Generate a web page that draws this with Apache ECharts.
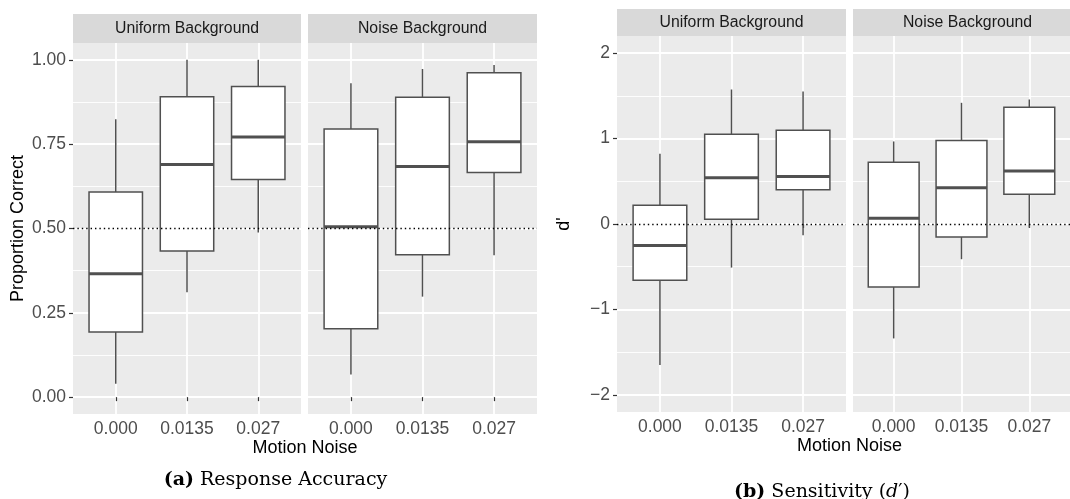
<!DOCTYPE html>
<html>
<head>
<meta charset="utf-8">
<script src="https://cdn.jsdelivr.net/npm/echarts@6/dist/echarts.min.js"></script>
<style>
html,body{margin:0;padding:0;background:#fff;}
#chart{width:1070px;height:499px;}
</style>
</head>
<body>
<div id="chart"></div>
<script>
// ---------------- DATA ----------------
const categories = ['0.000', '0.0135', '0.027'];
const facets = ['Uniform Background', 'Noise Background'];
// each row: [lower whisker, Q1, median, Q3, upper whisker]
const accUniform = [
  [0.040, 0.193, 0.366, 0.608, 0.824],
  [0.311, 0.433, 0.690, 0.891, 1.000],
  [0.488, 0.645, 0.771, 0.921, 1.000]
];
const accNoise = [
  [0.067, 0.203, 0.505, 0.795, 0.931],
  [0.298, 0.422, 0.684, 0.889, 0.973],
  [0.421, 0.666, 0.757, 0.962, 0.985]
];
const dUniform = [
  [-1.651, -0.658, -0.253, 0.218, 0.822],
  [-0.510, 0.055, 0.542, 1.051, 1.574],
  [-0.132, 0.402, 0.557, 1.098, 1.550]
];
const dNoise = [
  [-1.339, -0.736, 0.067, 0.724, 0.966],
  [-0.412, -0.152, 0.425, 0.978, 1.418],
  [-0.042, 0.347, 0.619, 1.367, 1.457]
];
const accTicks = [0, 0.25, 0.5, 0.75, 1];
const accMinorTicks = [0.125, 0.375, 0.625, 0.875];
const dTicks = [-2, -1, 0, 1, 2];
const dMinorTicks = [-1.5, -0.5, 0.5, 1.5];
const accRef = 0.5;
const dRef = 0;
const xTitle = 'Motion Noise';
const accYTitle = 'Proportion Correct';
const dYTitle = "d'";

// ---------------- LAYOUT / STYLE ----------------
const FONT = 'Liberation Sans';
const panels = [
  // chart (a)
  {left: 73, width: 228, top: 43, height: 371, stripTop: 14, stripH: 29, data: accUniform, facet: 0, chart: 'a'},
  {left: 308, width: 229, top: 43, height: 371, stripTop: 14, stripH: 29, data: accNoise, facet: 1, chart: 'a'},
  // chart (b)
  {left: 617, width: 229, top: 36, height: 376, stripTop: 9, stripH: 27, data: dUniform, facet: 0, chart: 'b'},
  {left: 853, width: 229, top: 36, height: 376, stripTop: 9, stripH: 27, data: dNoise, facet: 1, chart: 'b'}
];
const BOX_COLOR = '#505050';

function renderBox(params, api) {
  const x = api.value(0);
  const lo = api.coord([x, api.value(1)]);
  const q1 = api.coord([x, api.value(2)]);
  const md = api.coord([x, api.value(3)]);
  const q3 = api.coord([x, api.value(4)]);
  const hi = api.coord([x, api.value(5)]);
  const w = api.size([1, 0])[0] * 0.75;
  const cx = md[0];
  const ls = {stroke: BOX_COLOR, lineWidth: 1.5};
  return {
    type: 'group',
    children: [
      {type: 'line', shape: {x1: cx, y1: hi[1], x2: cx, y2: q3[1]}, style: ls},
      {type: 'line', shape: {x1: cx, y1: q1[1], x2: cx, y2: lo[1]}, style: ls},
      {type: 'rect', shape: {x: cx - w / 2, y: q3[1], width: w, height: q1[1] - q3[1]},
        style: {fill: '#ffffff', stroke: BOX_COLOR, lineWidth: 1.5}},
      {type: 'line', shape: {x1: cx - w / 2, y1: md[1], x2: cx + w / 2, y2: md[1]},
        style: {stroke: BOX_COLOR, lineWidth: 3}}
    ]
  };
}

const grids = [], xAxes = [], yAxes = [], series = [], graphics = [];
panels.forEach((p, i) => {
  const isA = p.chart === 'a';
  grids.push({left: p.left, top: p.top, width: p.width, height: p.height,
    show: true, backgroundColor: '#ebebeb', borderWidth: 0, containLabel: false});
  xAxes.push({
    type: 'value', gridIndex: i, min: -0.6, max: 2.6,
    axisLine: {show: false},
    axisTick: {show: true, length: 4, lineStyle: {color: '#333333', width: 1.2}, customValues: [0, 1, 2]},
    axisLabel: {show: true, customValues: [0, 1, 2], margin: 6, color: '#4d4d4d',
      fontFamily: FONT, fontSize: 17.5, formatter: v => categories[Math.round(v)]},
    splitLine: {show: true, lineStyle: {color: '#ffffff', width: 1.8}}
  });
  const ticks = isA ? accTicks : dTicks;
  const minor = isA ? accMinorTicks : dMinorTicks;
  const yMin = isA ? -0.05 : -2.2, yMax = isA ? 1.05 : 2.2;
  const showLabels = p.facet === 0;
  // minor grid axis (drawn first)
  yAxes.push({
    type: 'value', gridIndex: i, min: yMin, max: yMax, position: 'left',
    axisLine: {show: false}, axisTick: {show: false, customValues: minor},
    axisLabel: {show: false, customValues: minor},
    splitLine: {show: true, lineStyle: {color: '#ffffff', width: 0.9}}
  });
  // major axis
  yAxes.push({
    type: 'value', gridIndex: i, min: yMin, max: yMax, position: 'left',
    name: showLabels ? (isA ? accYTitle : dYTitle) : '',
    nameLocation: 'middle', nameRotate: 90, nameGap: isA ? 46 : 44,
    nameTextStyle: {fontFamily: FONT, fontSize: 18, color: '#000000'},
    axisLine: {show: false},
    axisTick: {show: showLabels, length: 4, lineStyle: {color: '#333333', width: 1.2}, customValues: ticks},
    axisLabel: {show: showLabels, customValues: ticks, margin: 7, color: '#4d4d4d',
      fontFamily: FONT, fontSize: 17.5,
      formatter: v => isA ? v.toFixed(2) : (v < 0 ? '\u2212' + Math.abs(v) : String(v))},
    splitLine: {show: true, lineStyle: {color: '#ffffff', width: 1.8}}
  });
  series.push({
    type: 'custom', xAxisIndex: i, yAxisIndex: 2 * i + 1,
    renderItem: renderBox,
    encode: {x: 0, y: [1, 2, 3, 4, 5]},
    data: p.data.map((v, k) => [k].concat(v)),
    silent: true,
    markLine: {
      silent: true, symbol: 'none', animation: false,
      label: {show: false},
      lineStyle: {type: [1.4, 3], color: '#000000', width: 1.4},
      data: [{yAxis: isA ? accRef : dRef}]
    },
    z: 3
  });
  // strip
  graphics.push({type: 'rect', left: p.left, top: p.stripTop,
    shape: {width: p.width, height: p.stripH}, style: {fill: '#d9d9d9'}, silent: true});
  graphics.push({type: 'text', x: p.left + p.width / 2, y: p.stripTop + p.stripH / 2,
    style: {text: facets[p.facet], fill: '#1a1a1a', font: '15.8px ' + FONT,
      textAlign: 'center', textVerticalAlign: 'middle'}, silent: true});
});

// axis titles (shared x) and captions
graphics.push({type: 'text', x: 305, y: 448, style: {text: xTitle, fill: '#000', font: '18px ' + FONT,
  textAlign: 'center', textVerticalAlign: 'middle'}, silent: true});
graphics.push({type: 'text', x: 849.5, y: 446, style: {text: xTitle, fill: '#000', font: '18px ' + FONT,
  textAlign: 'center', textVerticalAlign: 'middle'}, silent: true});
graphics.push({type: 'text', x: 275.5, y: 480, style: {
  text: '{b|(a)} Response Accuracy', fill: '#000', font: '19px "DejaVu Serif"',
  textAlign: 'center', textVerticalAlign: 'middle',
  rich: {b: {fontWeight: 'bold', fontFamily: 'DejaVu Serif', fontSize: 19}}}, silent: true});
graphics.push({type: 'text', x: 822, y: 492, style: {
  text: '{b|(b)} Sensitivity ({i|d}\u2032)', fill: '#000', font: '19px "DejaVu Serif"',
  textAlign: 'center', textVerticalAlign: 'middle',
  rich: {b: {fontWeight: 'bold', fontFamily: 'DejaVu Serif', fontSize: 19},
         i: {fontStyle: 'italic', fontFamily: 'DejaVu Serif', fontSize: 19}}}, silent: true});

const chart = echarts.init(document.getElementById('chart'), null, {renderer: 'canvas'});
chart.setOption({
  animation: false,
  backgroundColor: '#ffffff',
  grid: grids, xAxis: xAxes, yAxis: yAxes, series: series,
  graphic: {elements: graphics}
});
</script>
</body>
</html>
